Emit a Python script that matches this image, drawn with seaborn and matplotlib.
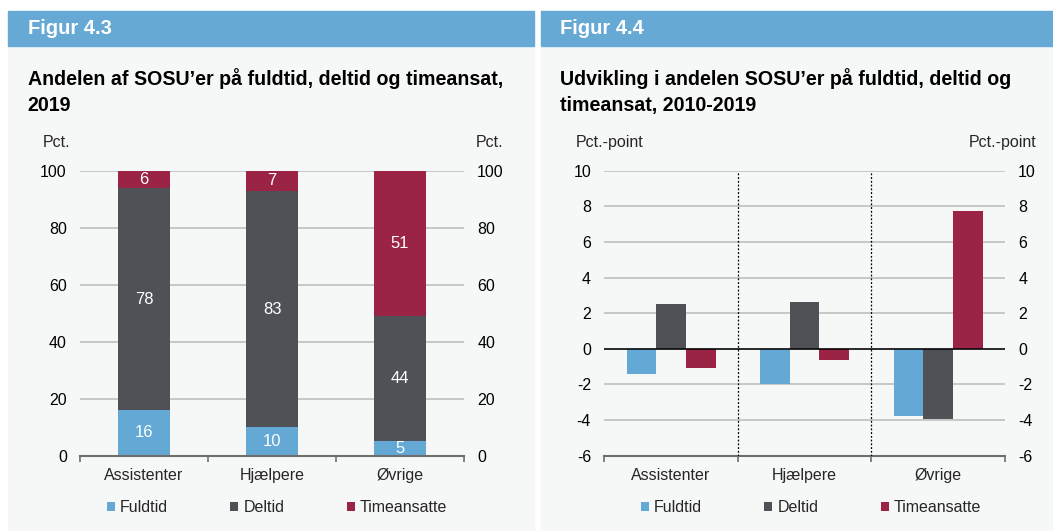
import matplotlib
matplotlib.use("Agg")
import matplotlib.pyplot as plt
from matplotlib.patches import Rectangle, Patch
import seaborn as sns
import pandas as pd

# data
categories = ["Assistenter", "Hjælpere", "Øvrige"]
series = ["Fuldtid", "Deltid", "Timeansatte"]
share_fuldtid = [16, 10, 5]
share_deltid = [78, 83, 44]
share_timeansat = [6, 7, 51]
change_fuldtid = [-1.4, -2.0, -3.75]
change_deltid = [2.5, 2.65, -3.95]
change_timeansat = [-1.05, -0.65, 7.75]

colors = ["#64a9d5", "#505156", "#9b2346"]
panel_bg = "#f6f7f7"
head_bg = "#65a9d4"
grid_c = "#c4c4c4"
spine_c = "#6e6e6e"

W, H = 1053, 531
sns.set_theme(style="white")
plt.rcParams["font.family"] = ["Liberation Sans", "DejaVu Sans"]
plt.rcParams["axes.unicode_minus"] = False

fig = plt.figure(figsize=(W / 100, H / 100), dpi=100)
fig.patch.set_facecolor("white")


def fx(px):
    return px / W


def fy(py):
    return 1 - py / H


# panels and headers
for x0, x1, head, title in [
    (8, 534, "Figur 4.3", "Andelen af SOSU’er på fuldtid, deltid og timeansat,\n2019"),
    (541, 1053, "Figur 4.4", "Udvikling i andelen SOSU’er på fuldtid, deltid og\ntimeansat, 2010-2019"),
]:
    fig.patches.append(Rectangle((fx(x0), fy(530)), fx(x1 - x0), (530 - 46) / H,
                                 transform=fig.transFigure, color=panel_bg, zorder=-10))
    fig.patches.append(Rectangle((fx(x0), fy(46)), fx(x1 - x0), 35 / H,
                                 transform=fig.transFigure, color=head_bg, zorder=-10))
    fig.text(fx(x0 + 19.5), fy(28.5), head, color="white", fontsize=14.5,
             fontweight="bold", va="center", ha="left")
    fig.text(fx(x0 + 19.5), fy(68), title, color="black", fontsize=14.1,
             fontweight="bold", va="top", ha="left", linespacing=1.5)


def style_axis(ax, ymin, ymax, step):
    ax.set_facecolor("none")
    ax.set_zorder(2)
    ax.set_ylim(ymin, ymax)
    ax.set_xlim(-0.5, 2.5)
    ax.set_yticks(range(ymin, ymax + 1, step))
    ax.yaxis.grid(True, color=grid_c, lw=1.3)
    ax.set_axisbelow(True)
    for s in ["top", "left", "right"]:
        ax.spines[s].set_visible(False)
    ax.spines["bottom"].set_color(spine_c)
    ax.spines["bottom"].set_linewidth(1.5)
    ax.tick_params(axis="y", left=False, right=False, labelleft=True,
                   labelright=True, labelsize=11.5, length=0, pad=9.5,
                   colors="black")
    ax.set_xticks([0, 1, 2])
    ax.set_xticklabels(categories)
    ax.set_xticks([-0.5, 0.5, 1.5, 2.5], minor=True)
    ax.tick_params(axis="x", which="major", length=0, pad=9, labelsize=11.5)
    ax.tick_params(axis="x", which="minor", length=4, width=1.2, color=spine_c,
                   direction="out", bottom=True)
    ax.set_xlabel("")
    ax.set_ylabel("")


# left chart: stacked bars
ax1 = fig.add_axes([fx(80), fy(455.7), fx(384), 284.7 / H])
df1 = pd.DataFrame({"kat": categories, "Fuldtid": share_fuldtid,
                    "Deltid": share_deltid, "Timeansatte": share_timeansat})
df1["cum1"] = df1["Fuldtid"]
df1["cum2"] = df1["Fuldtid"] + df1["Deltid"]
df1["cum3"] = df1["cum2"] + df1["Timeansatte"]
for col, c in zip(["cum3", "cum2", "cum1"], colors[::-1]):
    sns.barplot(data=df1, x="kat", y=col, color=c, width=0.4, ax=ax1,
                saturation=1, edgecolor="none")
style_axis(ax1, 0, 100, 20)
for i in range(len(categories)):
    bottom = 0
    for col in series:
        v = df1[col][i]
        ax1.text(i, bottom + v / 2, f"{v:.0f}", ha="center", va="center",
                 color="white", fontsize=12)
        bottom += v

# right chart: grouped bars
ax2 = fig.add_axes([fx(604.3), fy(455.7), fx(400.7), 285 / H])
df2 = pd.DataFrame({
    "kat": categories * 3,
    "serie": [s for s in series for _ in categories],
    "val": change_fuldtid + change_deltid + change_timeansat,
})
sns.barplot(data=df2, x="kat", y="val", hue="serie", palette=colors,
            width=0.667, gap=0, ax=ax2, saturation=1, edgecolor="none",
            legend=False)
style_axis(ax2, -6, 10, 2)
ax2.axhline(0, color="black", lw=1.1, zorder=3)
for xv in [0.5, 1.5]:
    ax2.axvline(xv, color="black", lw=0.9, ls=(0, (1.5, 1.5)), zorder=3)

# unit labels
fig.text(fx(42.5), fy(143), "Pct.", fontsize=11.5, va="center", ha="left")
fig.text(fx(503), fy(143), "Pct.", fontsize=11.5, va="center", ha="right")
fig.text(fx(576), fy(143), "Pct.-point", fontsize=11.5, va="center", ha="left")
fig.text(fx(1036), fy(143), "Pct.-point", fontsize=11.5, va="center", ha="right")

# legends
handles = [Patch(facecolor=c, edgecolor="none") for c in colors]
for cx in [277, 811]:
    fig.legend(handles, series, loc="center", bbox_to_anchor=(fx(cx), fy(508)),
               ncol=3, frameon=False, fontsize=11.5, handlelength=0.5,
               handleheight=0.5, handletextpad=0.3, columnspacing=3.9)

fig.savefig("out.png", dpi=100, facecolor="white")
